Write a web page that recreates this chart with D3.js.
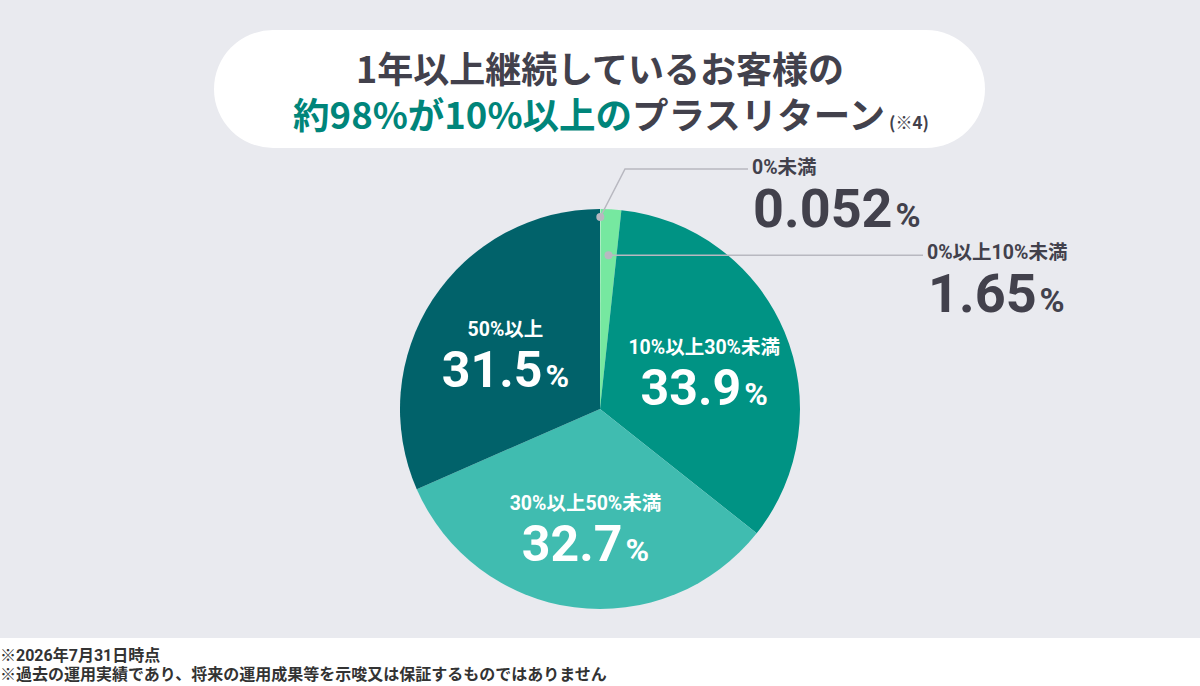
<!DOCTYPE html>
<html>
<head>
<meta charset="utf-8">
<script src="https://cdn.jsdelivr.net/npm/d3@7"></script>
<style>
  html, body { margin: 0; padding: 0; background: #e9eaef; }
  svg { display: block; }
  text { font-family: "Roboto", "Noto Sans CJK JP", sans-serif; font-weight: 700; }
</style>
</head>
<body>
<script>
// data, clockwise from 12 o'clock
const categories = ['0%未満', '0%以上10%未満', '10%以上30%未満', '30%以上50%未満', '50%以上'];
const values = [0.052, 1.65, 33.9, 32.7, 31.5];
const valueLabels = ['0.052', '1.65', '33.9', '32.7', '31.5'];
const colors = ['#c9f3d9', '#76e8a0', '#009384', '#40bcb0', '#01626a'];
const titleLine1 = '1年以上継続しているお客様の';
const titleLine2 = [
  { t: '約98%が10%以上の', c: '#00857a' },
  { t: 'プラスリターン', c: '#42414c' }
];
const footnotes = ['※2026年7月31日時点', '※過去の運用実績であり、将来の運用成果等を示唆又は保証するものではありません'];

const width = 1200;
const height = 686;
const cx = 600;
const cy = 409;
const radius = 200;
const dark = '#42414c';

const svg = d3.select('body').append('svg')
  .attr('width', width)
  .attr('height', height);

svg.append('rect')
  .attr('width', width)
  .attr('height', height)
  .attr('fill', '#e9eaef');

// title pill
svg.append('rect')
  .attr('x', 214).attr('y', 30)
  .attr('width', 771).attr('height', 118)
  .attr('rx', 59)
  .attr('fill', '#ffffff');

svg.append('text')
  .attr('x', 600).attr('y', 83)
  .attr('text-anchor', 'middle')
  .attr('font-size', 36)
  .style('font-family', '"Noto Sans CJK JP", sans-serif')
  .attr('fill', dark)
  .text(titleLine1);

const t2 = svg.append('text')
  .attr('x', 611).attr('y', 129)
  .attr('text-anchor', 'middle')
  .style('font-family', '"Noto Sans CJK JP", sans-serif');
titleLine2.forEach(d => {
  t2.append('tspan').attr('font-size', 36.5).attr('fill', d.c).text(d.t);
});
t2.append('tspan').attr('font-size', 17).attr('dx', 4).attr('fill', dark).text('(※4)');

// pie
const pie = d3.pie().sort(null).value(d => d);
const arcs = pie(values);
const arc = d3.arc().innerRadius(0).outerRadius(radius);

const g = svg.append('g').attr('transform', `translate(${cx},${cy})`);

g.selectAll('path.slice')
  .data(arcs)
  .join('path')
  .attr('class', 'slice')
  .attr('d', arc)
  .attr('fill', (d, i) => colors[i]);

// labels inside big slices
const labelArc = d3.arc().innerRadius(113).outerRadius(113);
const inside = arcs.filter((d, i) => i >= 2);

inside.forEach(d => {
  const i = d.index;
  const [x, y] = labelArc.centroid(d);
  g.append('text')
    .attr('x', x).attr('y', y - 11)
    .attr('text-anchor', 'middle')
    .attr('font-size', 19.5)
    .attr('fill', '#ffffff')
    .text(categories[i]);
  const big = g.append('text')
    .attr('x', x).attr('y', y + 40)
    .attr('text-anchor', 'middle')
    .attr('fill', '#ffffff');
  big.append('tspan').attr('font-size', 50).text(valueLabels[i]);
  big.append('tspan').attr('font-size', 32).attr('dx', 3).text('%');
});

// leader lines for small slices
const leaderR = [192, 154];
const labelPos = [
  { x: 752, y: 174, bend: [625, 169], end: [748, 169] },
  { x: 927, y: 259, bend: null, end: [923, 255] }
];

arcs.slice(0, 2).forEach((d, i) => {
  const a = d3.arc().innerRadius(leaderR[i]).outerRadius(leaderR[i]);
  const [x, y] = a.centroid(d);
  const px = cx + x, py = cy + y;
  const p = labelPos[i];
  const pts = [[px, py]];
  if (p.bend) pts.push(p.bend); else pts.push([p.end[0], py]);
  if (p.bend) pts.push(p.end);
  svg.append('path')
    .attr('d', d3.line()(pts))
    .attr('fill', 'none')
    .attr('stroke', '#b8b8c0')
    .attr('stroke-width', 1.5);
  svg.append('circle')
    .attr('cx', px).attr('cy', py).attr('r', 4)
    .attr('fill', '#b8b8c0');

  svg.append('text')
    .attr('x', p.x).attr('y', p.y)
    .attr('font-size', 19.5)
    .attr('fill', dark)
    .text(categories[i]);
  const big = svg.append('text')
    .attr('x', p.x + 1).attr('y', p.y + 53)
    .attr('fill', dark);
  big.append('tspan').attr('font-size', 54).text(valueLabels[i]);
  big.append('tspan').attr('font-size', 34).attr('dx', 3).text('%');
});

// footer
svg.append('rect')
  .attr('x', 0).attr('y', 638)
  .attr('width', width).attr('height', height - 638)
  .attr('fill', '#ffffff');

svg.selectAll('text.foot')
  .data(footnotes)
  .join('text')
  .attr('class', 'foot')
  .attr('x', 0)
  .attr('y', (d, i) => 661 + i * 19)
  .attr('font-size', 16)
  .attr('fill', '#333333')
  .text(d => d);
</script>
</body>
</html>
